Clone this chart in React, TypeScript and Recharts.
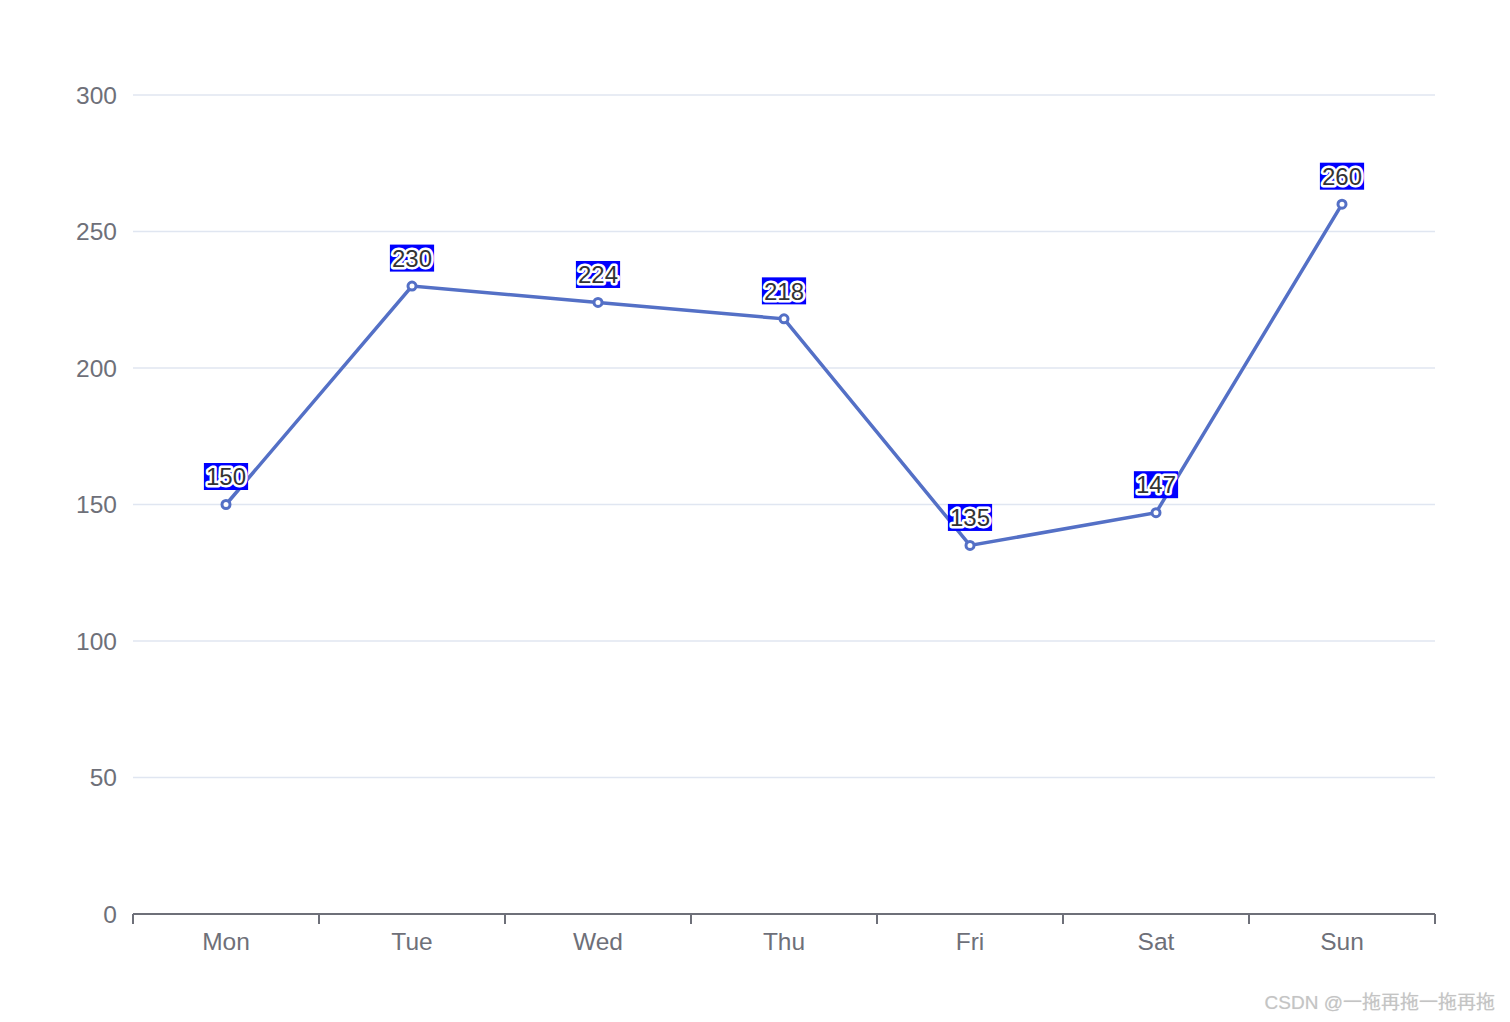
import React from 'react';
import { LineChart, Line, XAxis, YAxis, CartesianGrid, LabelList } from 'recharts';

const categories = ['Mon', 'Tue', 'Wed', 'Thu', 'Fri', 'Sat', 'Sun'];
const values = [150, 230, 224, 218, 135, 147, 260];
const yTicks = [0, 50, 100, 150, 200, 250, 300];

const data = categories.map((day, i) => ({ day, pos: i + 0.5, value: values[i] }));
const xTicks = categories.flatMap((_, i) => [i, i + 0.5]).concat([categories.length]);

const FONT = '"Liberation Sans", Arial, sans-serif';
const AXIS_COLOR = '#6E7079';

const XTick = (props: any) => {
  const { x, y, payload } = props;
  const v = payload.value as number;
  if (Number.isInteger(v)) {
    return <line x1={x} x2={x} y1={y - 19} y2={y - 9} stroke={AXIS_COLOR} strokeWidth={2} />;
  }
  return (
    <text x={x} y={y} dy="0.71em" textAnchor="middle" fill={AXIS_COLOR} fontSize={24.5} fontFamily={FONT}>
      {categories[Math.round(v - 0.5)]}
    </text>
  );
};

const ValueLabel = (props: any) => {
  const { x, y, value } = props;
  const s = String(value);
  const w = s.length * 13.4 + 4;
  const h = 27;
  const cy = y - 28;
  return (
    <g>
      <rect x={x - w / 2} y={cy - h / 2} width={w} height={h} fill="#0000ff" />
      <text
        x={x}
        y={cy}
        dy="0.36em"
        textAnchor="middle"
        fontSize={24}
        fontFamily={FONT}
        fill="#333333"
        stroke="#ffffff"
        strokeWidth={5}
        strokeLinejoin="round"
        paintOrder="stroke"
      >
        {s}
      </text>
    </g>
  );
};

export default function App() {
  return (
    <div style={{ position: 'absolute', left: 0, top: 0, width: 1510, height: 1022, background: '#fff' }}>
      <LineChart
        width={1510}
        height={1022}
        data={data}
        margin={{ top: 95, right: 75, left: 0, bottom: 0 }}
      >
        <CartesianGrid horizontal vertical={false} stroke="#E0E6F1" strokeWidth={1.5} />
        <XAxis
          dataKey="pos"
          type="number"
          domain={[0, categories.length]}
          ticks={xTicks}
          interval={0}
          height={108}
          tickSize={10}
          tickMargin={9}
          tickLine={false}
          axisLine={{ stroke: AXIS_COLOR, strokeWidth: 2 }}
          tick={<XTick />}
        />
        <YAxis
          type="number"
          domain={[0, 300]}
          ticks={yTicks}
          width={133}
          axisLine={false}
          tickLine={false}
          tickSize={8}
          tickMargin={8}
          tick={{ fill: AXIS_COLOR, fontSize: 24.5, fontFamily: FONT }}
        />
        <Line
          type="linear"
          dataKey="value"
          stroke="#5470c6"
          strokeWidth={3.5}
          dot={{ r: 4, stroke: '#5470c6', strokeWidth: 3, fill: '#fff' }}
          isAnimationActive={false}
        >
          <LabelList dataKey="value" content={<ValueLabel />} />
        </Line>
      </LineChart>
      <div
        style={{
          position: 'absolute',
          right: 15,
          top: 990,
          fontSize: 19,
          color: '#c4c4c4',
          fontFamily: '"Liberation Sans", "Noto Sans CJK SC", sans-serif',
          textShadow: '0 0 1px #e0e0e0',
          whiteSpace: 'nowrap',
          lineHeight: '26px',
        }}
      >
        CSDN @一拖再拖一拖再拖
      </div>
    </div>
  );
}
